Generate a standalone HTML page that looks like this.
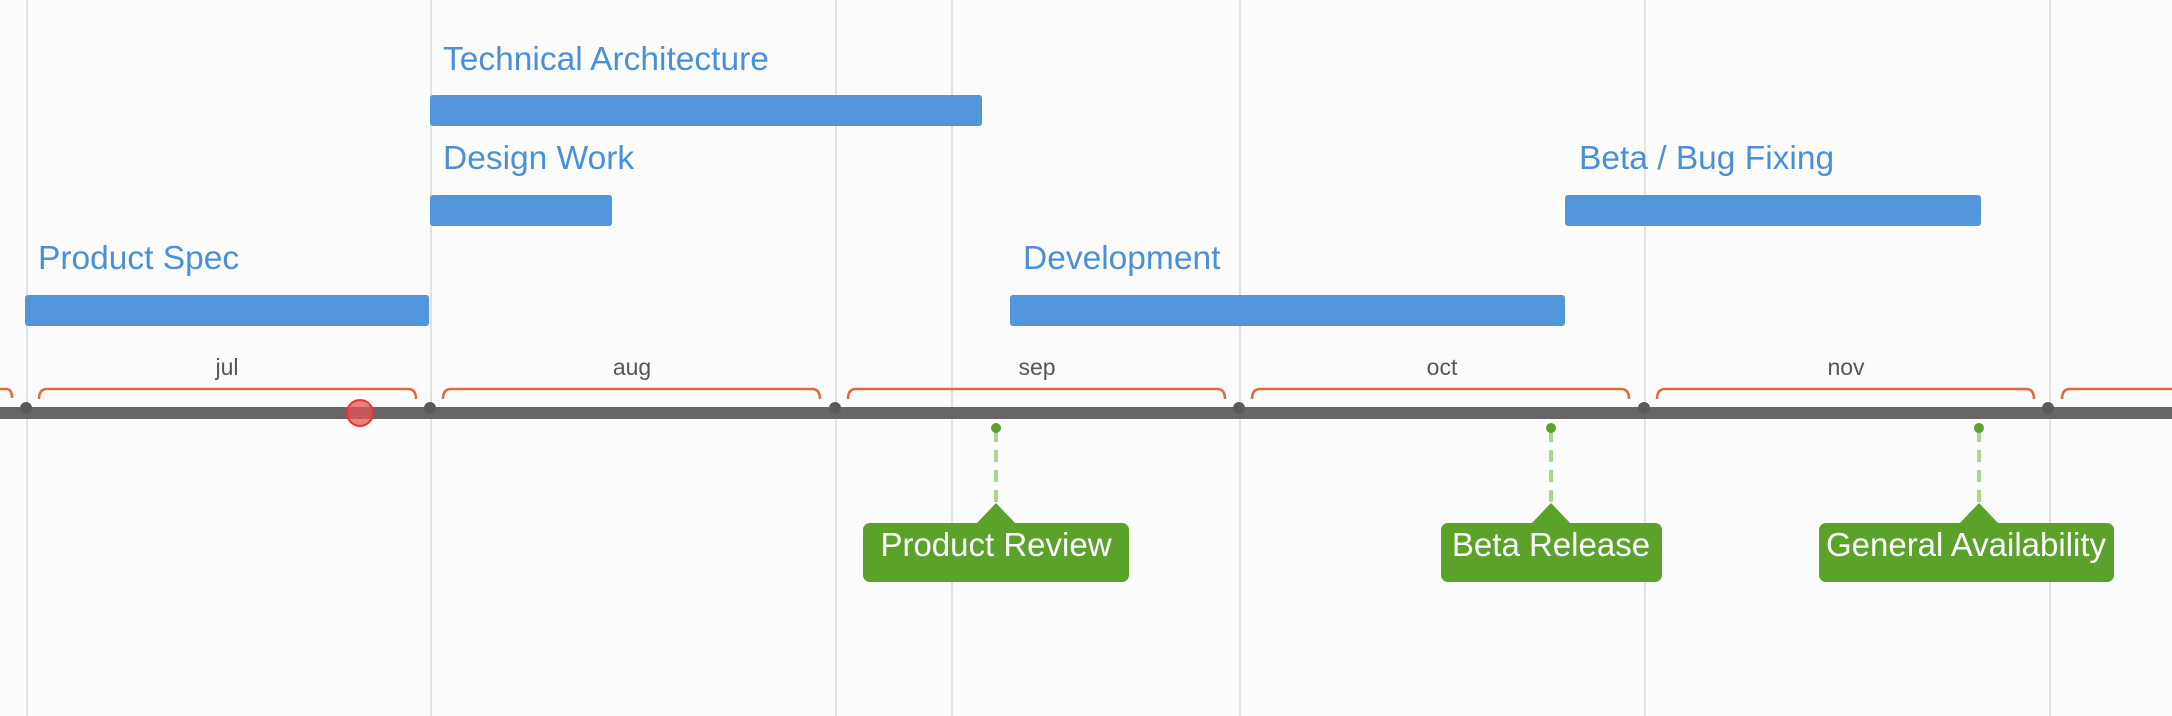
<!DOCTYPE html>
<html><head><meta charset="utf-8"><style>
html,body{margin:0;padding:0;background:#fcfcfc;}
svg{display:block;font-family:"Liberation Sans",sans-serif;}
</style></head><body>
<svg width="2172" height="716" viewBox="0 0 2172 716" xmlns="http://www.w3.org/2000/svg">
<rect width="2172" height="716" fill="#fcfcfc"/>
<g stroke="#e2e2e2" stroke-width="2">
<line x1="27" y1="0" x2="27" y2="716"/>
<line x1="431" y1="0" x2="431" y2="716"/>
<line x1="836" y1="0" x2="836" y2="716"/>
<line x1="952" y1="0" x2="952" y2="716"/>
<line x1="1240" y1="0" x2="1240" y2="716"/>
<line x1="1645" y1="0" x2="1645" y2="716"/>
<line x1="2050" y1="0" x2="2050" y2="716"/>
</g>
<g fill="#4a90d9" fill-opacity="0.95">
<rect x="430" y="95" width="552" height="31" rx="3"/>
<rect x="430" y="195" width="182" height="31" rx="3"/>
<rect x="25" y="295" width="404" height="31" rx="3"/>
<rect x="1010" y="295" width="555" height="31" rx="3"/>
<rect x="1565" y="195" width="416" height="31" rx="3"/>
</g>
<g fill="#4a90d9" font-size="33.5">
<text x="443" y="70">Technical Architecture</text>
<text x="443" y="169">Design Work</text>
<text x="38" y="269">Product Spec</text>
<text x="1023" y="269">Development</text>
<text x="1579" y="169">Beta / Bug Fixing</text>
</g>
<g fill="#555" font-size="23" text-anchor="middle">
<text x="227" y="375">jul</text>
<text x="632" y="375">aug</text>
<text x="1037" y="375">sep</text>
<text x="1442" y="375">oct</text>
<text x="1846" y="375">nov</text>
</g>
<g fill="none" stroke="#e06a3c" stroke-width="2.5">
<path d="M-10 389 H6 Q12 389 12 398"/>
<path d="M39 399 Q39 389 47 389 H408 Q416 389 416 399"/>
<path d="M443 399 Q443 389 451 389 H812 Q820 389 820 399"/>
<path d="M848 399 Q848 389 856 389 H1217 Q1225 389 1225 399"/>
<path d="M1252 399 Q1252 389 1260 389 H1621 Q1629 389 1629 399"/>
<path d="M1657 399 Q1657 389 1665 389 H2026 Q2034 389 2034 399"/>
<path d="M2062 399 Q2062 389 2070 389 H2180"/>
</g>
<rect x="0" y="407" width="2172" height="12" fill="#666"/>
<g fill="#5a5a5a">
<circle cx="26" cy="408" r="6"/><circle cx="430" cy="408" r="6"/><circle cx="835" cy="408" r="6"/>
<circle cx="1239" cy="408" r="6"/><circle cx="1644" cy="408" r="6"/><circle cx="2048" cy="408" r="6"/>
</g>
<circle cx="360" cy="413" r="13" fill="#e65555" fill-opacity="0.75" stroke="#e33" stroke-width="2"/>
<g stroke="#a9d790" stroke-width="4" stroke-dasharray="12,8">
<line x1="996" y1="430" x2="996" y2="505"/>
<line x1="1551" y1="430" x2="1551" y2="505"/>
<line x1="1979" y1="430" x2="1979" y2="505"/>
</g>
<g fill="#5aa22a">
<circle cx="996" cy="428" r="5"/><circle cx="1551" cy="428" r="5"/><circle cx="1979" cy="428" r="5"/>
<path d="M976 524 L996 503 L1016 524Z"/><path d="M1531 524 L1551 503 L1571 524Z"/><path d="M1959 524 L1979 503 L1999 524Z"/>
<rect x="863" y="523" width="266" height="59" rx="7"/>
<rect x="1441" y="523" width="221" height="59" rx="7"/>
<rect x="1819" y="523" width="295" height="59" rx="7"/>
</g>
<g fill="#fff" font-size="33" text-anchor="middle">
<text x="996" y="556">Product Review</text>
<text x="1551" y="556">Beta Release</text>
<text x="1966" y="556">General Availability</text>
</g>
</svg>
</body></html>
